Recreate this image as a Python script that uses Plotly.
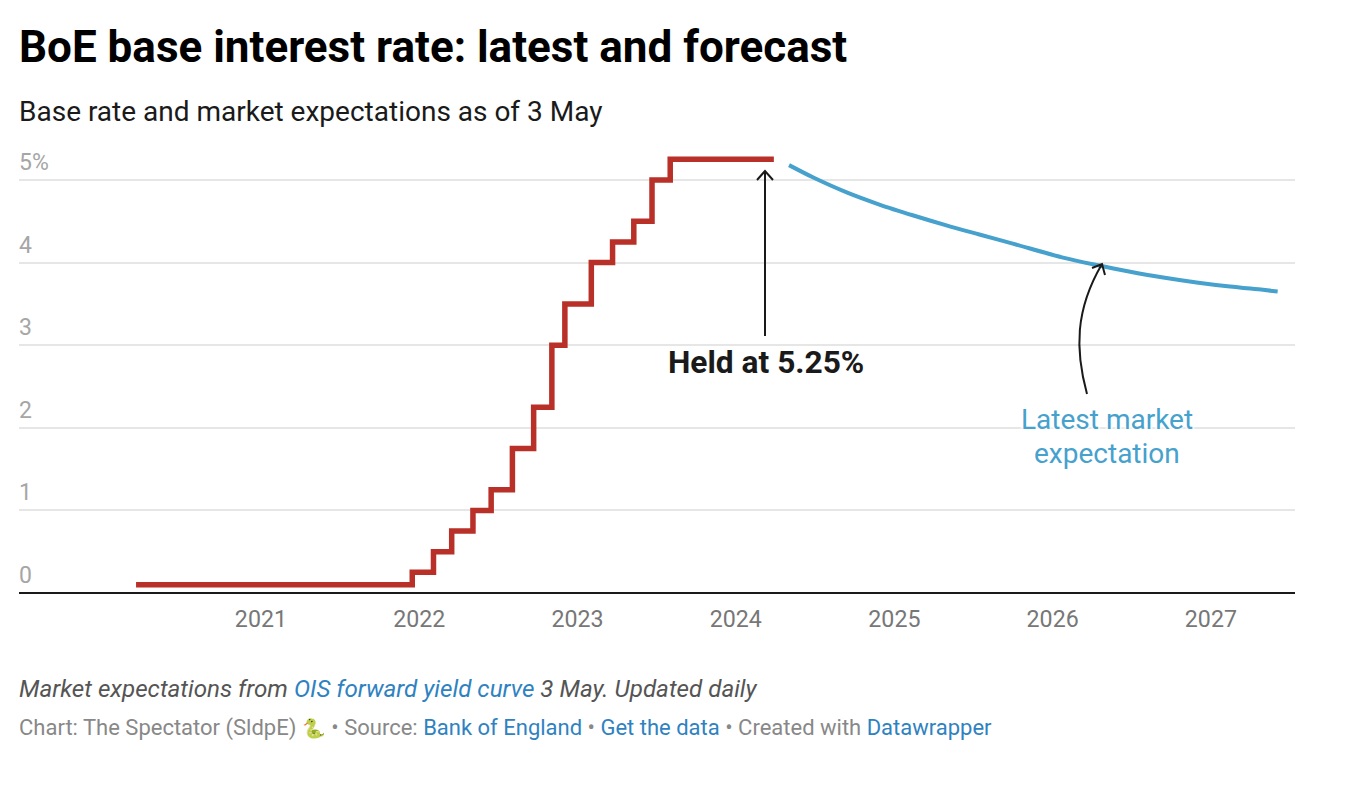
import plotly.graph_objects as go

# --- data ---
RATE_DATES = ["2020-03-19", "2021-12-16", "2022-02-03", "2022-03-17", "2022-05-05", "2022-06-16",
              "2022-08-04", "2022-09-22", "2022-11-03", "2022-12-03", "2023-02-02", "2023-03-23",
              "2023-05-11", "2023-06-22", "2023-08-03", "2024-03-29"]
RATE_VALUES = [0.1, 0.25, 0.5, 0.75, 1.0, 1.25, 1.75, 2.25, 3.0, 3.5, 4.0, 4.25, 4.5, 5.0, 5.25, 5.25]
FORECAST_DATES = ["2024-05-03", "2024-06-28", "2024-09-13", "2024-11-29", "2025-02-14", "2025-05-01",
                  "2025-07-16", "2025-10-01", "2026-01-25", "2026-04-13", "2026-06-29", "2026-09-13",
                  "2026-11-29", "2027-02-14", "2027-05-01", "2027-06-04"]
FORECAST_VALUES = [5.18, 5.03, 4.85, 4.70, 4.57, 4.45, 4.34, 4.23, 4.06, 3.97, 3.89, 3.82, 3.76, 3.71, 3.67, 3.65]
Y_TICKS = [0, 1, 2, 3, 4, 5]
Y_LABELS = ["0", "1", "2", "3", "4", "5%"]
X_TICKS = ["2021-01-01", "2022-01-01", "2023-01-01", "2024-01-01", "2025-01-01", "2026-01-01", "2027-01-01"]
X_LABELS = ["2021", "2022", "2023", "2024", "2025", "2026", "2027"]

TITLE = "BoE base interest rate: latest and forecast"
SUBTITLE = "Base rate and market expectations as of 3 May"
LINK = "#2f82c1"
NOTE = ('<i>Market expectations from <span style="color:%s">OIS forward yield curve</span> '
        '3 May. Updated daily</i>' % LINK)
CREDIT = ('Chart: The Spectator (SldpE) <span style="font-size:19px">\U0001F40D</span> • Source: '
          '<span style="color:%s">Bank of England</span> • '
          '<span style="color:%s">Get the data</span> • Created with '
          '<span style="color:%s">Datawrapper</span>' % (LINK, LINK, LINK))

# --- layout (page pixels; the page body adds 8px around the figure) ---
BODY = 8
W, H = 1354 - 2 * BODY, 808 - 2 * BODY
LEFT, RIGHT, TOP, BOTTOM = 19, 1295, 130, 593


def px(x):
    return (x - LEFT) / (RIGHT - LEFT)


def py(y):
    return (BOTTOM - y) / (BOTTOM - TOP)


def svg(cmds):
    out = []
    for c in cmds:
        out.append(c[0] + " " + " ".join(f"{px(c[i]):.5f},{py(c[i + 1]):.5f}" for i in range(1, len(c), 2)))
    return " ".join(out)


FONT = "Roboto"
fig = go.Figure()
fig.add_trace(go.Scatter(x=RATE_DATES, y=RATE_VALUES, mode="lines", hoverinfo="skip",
                         line=dict(color="#b83027", width=5.5, shape="hv")))
fig.add_trace(go.Scatter(x=FORECAST_DATES, y=FORECAST_VALUES, mode="lines", hoverinfo="skip",
                         line=dict(color="#46a1cd", width=4, shape="spline", smoothing=0.8)))


def text(x, y, s, size, color, xanchor="left", yanchor="middle", weight=None, shadow=None, align="left"):
    font = dict(family=FONT, size=size, color=color)
    if weight:
        font["weight"] = weight
    if shadow:
        font["shadow"] = shadow
    fig.add_annotation(x=px(x), y=py(y), xref="paper", yref="paper", text=s, showarrow=False,
                       xanchor=xanchor, yanchor=yanchor, align=align, font=font, borderpad=0, borderwidth=0)


HALO = "2px 0 2px #fff, -2px 0 2px #fff, 0 2px 2px #fff, 0 -2px 2px #fff"
text(19, 47, TITLE, 44, "#000000", weight=700)
text(19, 111, SUBTITLE, 28, "#1a1a1a")
text(19, 689, NOTE, 24.2, "#555555")
text(19, 728, CREDIT, 22, "#888888")
text(766, 362, "Held at 5.25%", 31.7, "#1a1a1a", xanchor="center", weight=700, shadow=HALO)
text(1107, 419, "Latest market", 28, "#46a1cd", xanchor="center", shadow=HALO)
text(1107, 453, "expectation", 28, "#46a1cd", xanchor="center", shadow=HALO)

arrow = dict(color="#1a1a1a", width=2)
fig.add_shape(type="path", xref="paper", yref="paper", line=arrow,
              path=svg([("M", 765, 336), ("L", 765, 171), ("M", 757, 180), ("L", 765, 171), ("L", 773, 180)]))
fig.add_shape(type="path", xref="paper", yref="paper", line=arrow,
              path=svg([("M", 1087, 394), ("C", 1075, 350, 1075, 310, 1102, 264),
                        ("M", 1092, 268), ("L", 1102, 264), ("L", 1105, 275)]))

fig.update_layout(
    width=W, height=H, showlegend=False, paper_bgcolor="white", plot_bgcolor="white",
    margin=dict(l=LEFT - BODY, r=W + BODY - RIGHT, t=TOP - BODY, b=H + BODY - BOTTOM, pad=0),
    font=dict(family=FONT),
    xaxis=dict(type="date", range=["2019-06-23", "2027-07-14"], tickmode="array", tickvals=X_TICKS,
               ticktext=X_LABELS, showgrid=False, ticks="", showline=False, zeroline=False,
               tickfont=dict(family=FONT, size=23.2, color="#777777"), ticklabelstandoff=10),
    yaxis=dict(range=[0, (BOTTOM - TOP) / 82.6], tickmode="array", tickvals=Y_TICKS, ticktext=Y_LABELS,
               showgrid=True, gridcolor="#e6e6e6", gridwidth=1.6, ticks="",
               zeroline=True, zerolinecolor="#1a1a1a", zerolinewidth=2, showline=False,
               ticklabelposition="inside", ticklabelshift=-18, ticklabelstandoff=-3,
               tickfont=dict(family=FONT, size=23, color="#a6a6a6")),
)
fig.write_html("out.html")
